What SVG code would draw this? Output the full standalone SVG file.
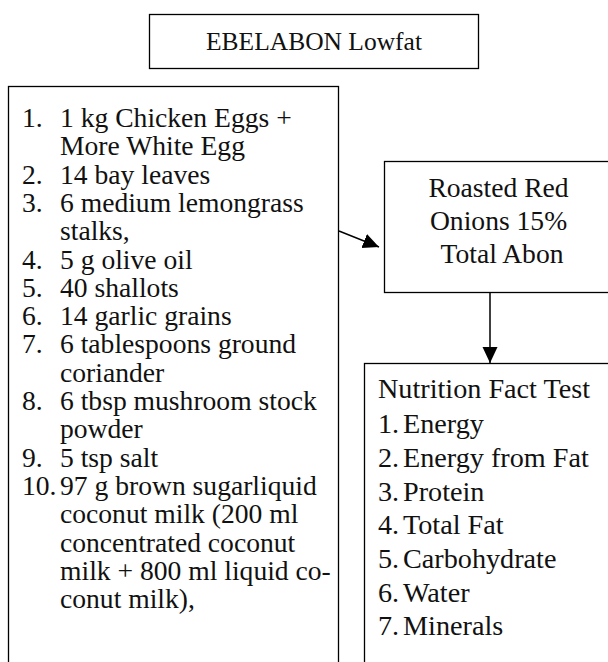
<svg xmlns="http://www.w3.org/2000/svg" width="608" height="662" viewBox="0 0 608 662">
<defs>
<style>
.box{fill:#fff;stroke:#000;stroke-width:1.3}
.t{font-family:"Liberation Serif","Times New Roman",serif;font-size:27.6px;fill:#111}
.c{text-anchor:middle}
.edge{stroke:#000;stroke-width:1.5;fill:none}
</style>
<marker id="ah" markerUnits="userSpaceOnUse" markerWidth="18" markerHeight="16" refX="16" refY="7.5" orient="auto">
<path d="M0,0 L16,7.5 L0,15 Z" fill="#000"/>
</marker>
</defs>
<rect width="608" height="662" fill="#fff"/>
<g id="title">
<rect class="box" x="149.5" y="14.5" width="329" height="54"/>
<text class="t c" x="314" y="50" style="font-size:25.5px">EBELABON Lowfat</text>
</g>
<g id="ingredients">
<rect class="box" x="8.5" y="86.5" width="330" height="600"/>
<text class="t">
<tspan x="22" y="127">1.</tspan><tspan x="60" y="127">1 kg Chicken Eggs +</tspan>
<tspan x="60" y="155.3">More White Egg</tspan>
<tspan x="22" y="183.6">2.</tspan><tspan x="60" y="183.6">14 bay leaves</tspan>
<tspan x="22" y="211.9">3.</tspan><tspan x="60" y="211.9">6 medium lemongrass</tspan>
<tspan x="60" y="240.2">stalks,</tspan>
<tspan x="22" y="268.5">4.</tspan><tspan x="60" y="268.5">5 g olive oil</tspan>
<tspan x="22" y="296.8">5.</tspan><tspan x="60" y="296.8">40 shallots</tspan>
<tspan x="22" y="325.1">6.</tspan><tspan x="60" y="325.1">14 garlic grains</tspan>
<tspan x="22" y="353.4">7.</tspan><tspan x="60" y="353.4">6 tablespoons ground</tspan>
<tspan x="60" y="381.7">coriander</tspan>
<tspan x="22" y="410">8.</tspan><tspan x="60" y="410">6 tbsp mushroom stock</tspan>
<tspan x="60" y="438.3">powder</tspan>
<tspan x="22" y="466.6">9.</tspan><tspan x="60" y="466.6">5 tsp salt</tspan>
<tspan x="22" y="494.9">10.</tspan><tspan x="60" y="494.9">97 g brown sugarliquid</tspan>
<tspan x="60" y="523.2">coconut milk (200 ml</tspan>
<tspan x="60" y="551.5">concentrated coconut</tspan>
<tspan x="60" y="579.8">milk + 800 ml liquid co-</tspan>
<tspan x="60" y="608.1">conut milk),</tspan>
</text>
</g>
<g id="onions">
<rect class="box" x="384.5" y="161.5" width="260" height="131"/>
<text class="t c">
<tspan x="502" y="196.5">Roasted Red</tspan>
<tspan x="502" y="229.5">Onions 15%</tspan>
<tspan x="502" y="262.5">Total Abon</tspan>
</text>
</g>
<g id="nutrition">
<rect class="box" x="364.5" y="363.5" width="260" height="320"/>
<text class="t" style="font-size:28.2px">
<tspan x="378" y="398">Nutrition Fact Test</tspan>
<tspan x="378" y="432.5">1.</tspan><tspan x="403" y="432.5">Energy</tspan>
<tspan x="378" y="466.5">2.</tspan><tspan x="403" y="466.5">Energy from Fat</tspan>
<tspan x="378" y="500.5">3.</tspan><tspan x="403" y="500.5">Protein</tspan>
<tspan x="378" y="534">4.</tspan><tspan x="403" y="534">Total Fat</tspan>
<tspan x="378" y="567.5">5.</tspan><tspan x="403" y="567.5">Carbohydrate</tspan>
<tspan x="378" y="601.5">6.</tspan><tspan x="403" y="601.5">Water</tspan>
<tspan x="378" y="635">7.</tspan><tspan x="403" y="635">Minerals</tspan>
</text>
</g>
<g id="connectors">
<line class="edge" x1="339" y1="231" x2="379" y2="247" marker-end="url(#ah)"/>
<line class="edge" x1="490" y1="293" x2="490" y2="363" marker-end="url(#ah)"/>
</g>
</svg>
